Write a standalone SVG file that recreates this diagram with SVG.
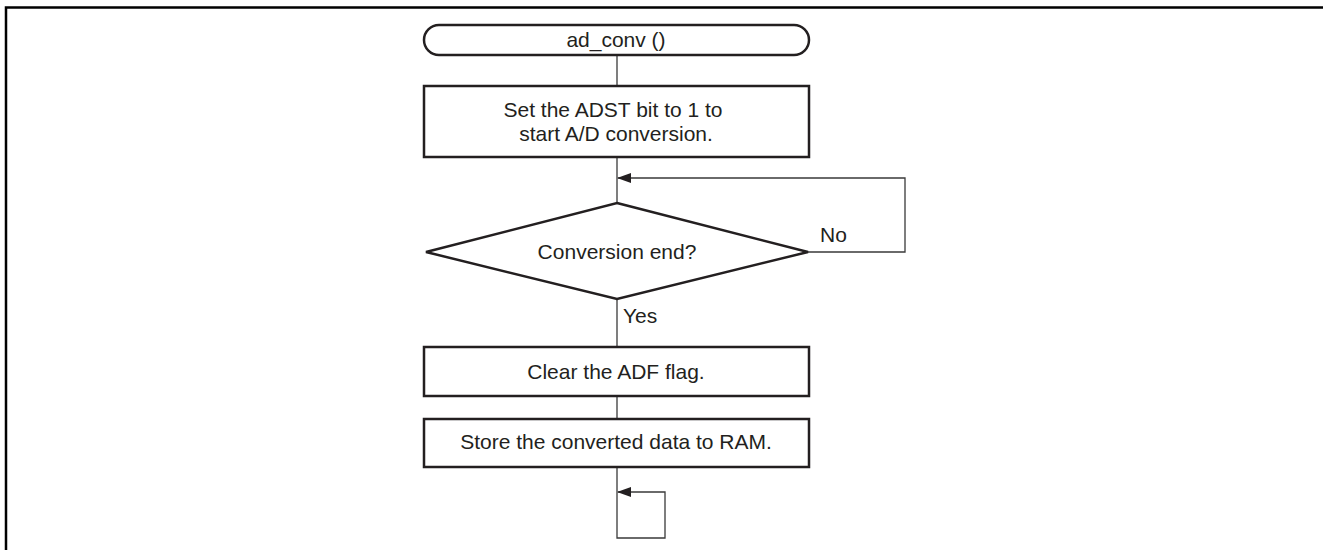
<svg xmlns="http://www.w3.org/2000/svg" width="1323" height="550" viewBox="0 0 1323 550">
<defs>
<style>
.box{fill:#fff;stroke:#231f20;stroke-width:2.5}
.ln{fill:none;stroke:#3a3a3a;stroke-width:1.3}
.t{font-family:"Liberation Sans",Arial,sans-serif;font-size:21px;fill:#231f20;text-anchor:middle}
.lbl{font-family:"Liberation Sans",Arial,sans-serif;font-size:21px;fill:#231f20}
</style>
<marker id="arr" markerWidth="14" markerHeight="10" refX="13" refY="5" orient="auto" markerUnits="userSpaceOnUse">
<path d="M0,0 L14,5 L0,10 Z" fill="#231f20"/>
</marker>
</defs>
<rect width="1323" height="550" fill="#fff"/>
<path d="M6,550 V7.5 H1323" fill="none" stroke="#000" stroke-width="2.5"/>
<g id="connectors">
<line class="ln" x1="617" y1="55" x2="617" y2="86"/>
<line class="ln" x1="617" y1="157" x2="617" y2="203"/>
<path class="ln" d="M808,252 H905 V178 H618" marker-end="url(#arr)"/>
<line class="ln" x1="617" y1="299" x2="617" y2="347"/>
<line class="ln" x1="617" y1="396" x2="617" y2="419"/>
<path class="ln" d="M617,467 V538 H665 V492 H618" marker-end="url(#arr)"/>
<text class="lbl" x="820" y="242">No</text>
<text class="lbl" x="623" y="323">Yes</text>
</g>
<g id="start">
<rect class="box" x="424" y="25" width="385" height="30" rx="15" ry="15"/>
<text class="t" x="616" y="47">ad_conv ()</text>
</g>
<g id="set-adst">
<rect class="box" x="424" y="86" width="385" height="71"/>
<text class="t" x="613" y="117">Set the ADST bit to 1 to</text>
<text class="t" x="616" y="141">start A/D conversion.</text>
</g>
<g id="decision">
<polygon class="box" points="617,203 808,252 617,299 426,252"/>
<text class="t" x="617" y="259">Conversion end?</text>
</g>
<g id="clear-adf">
<rect class="box" x="424" y="347" width="385" height="49"/>
<text class="t" x="616" y="379">Clear the ADF flag.</text>
</g>
<g id="store">
<rect class="box" x="424" y="419" width="385" height="48"/>
<text class="t" x="616" y="449">Store the converted data to RAM.</text>
</g>
</svg>
